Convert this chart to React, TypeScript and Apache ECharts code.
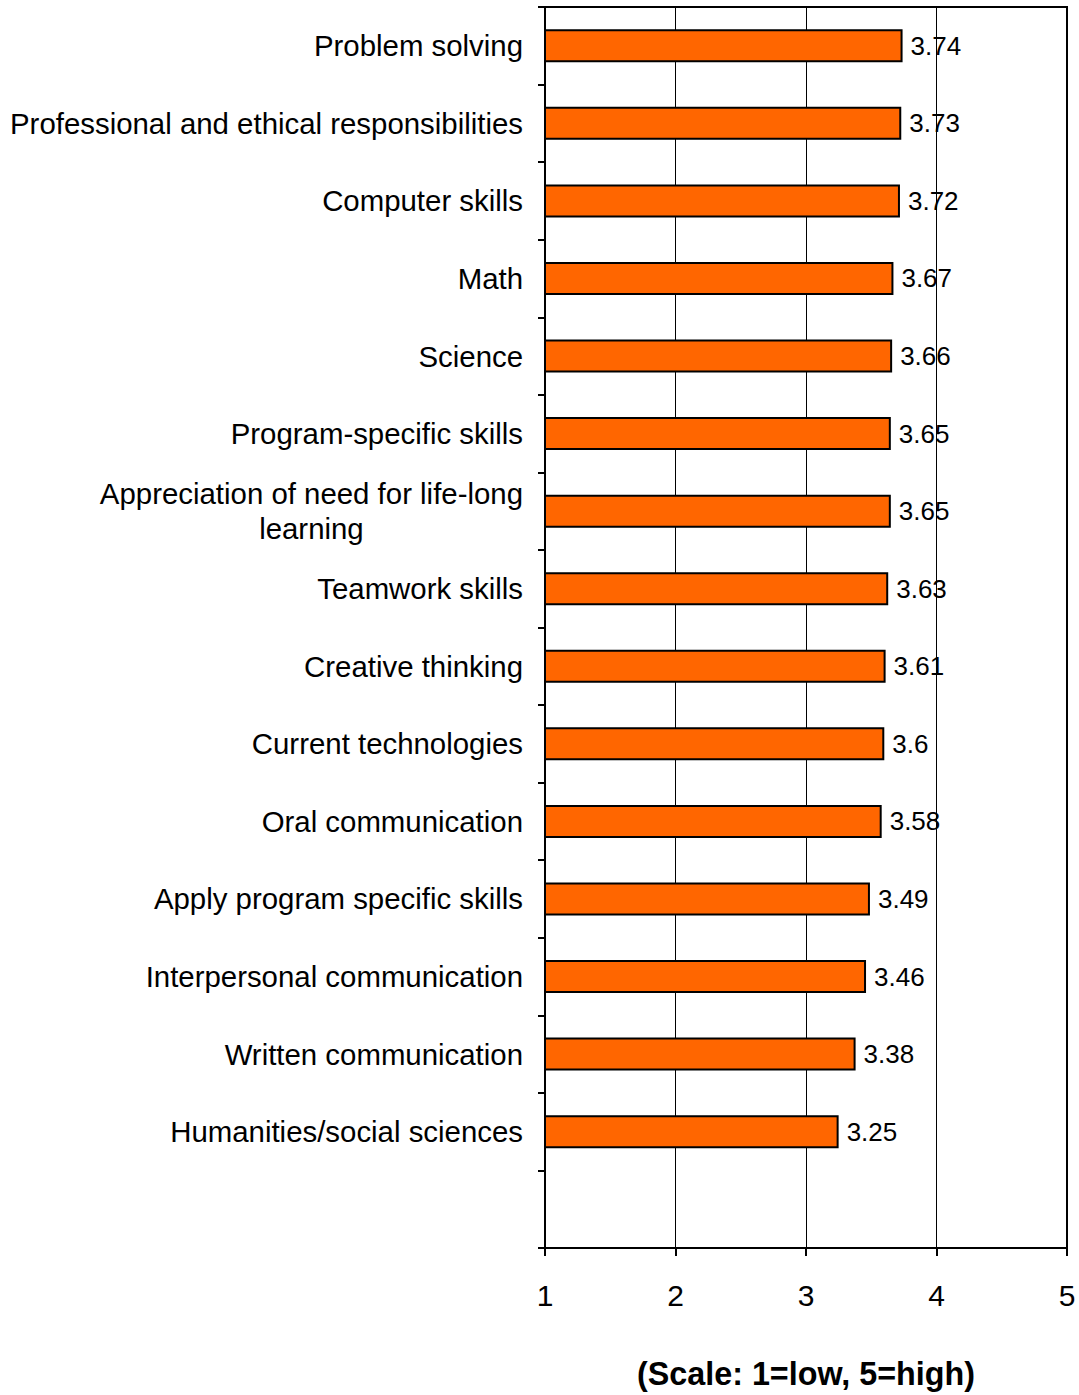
import React, { useEffect, useRef } from "react";
import * as echarts from "echarts";

const categories: string[] = [
  "Problem solving",
  "Professional and ethical responsibilities",
  "Computer skills",
  "Math",
  "Science",
  "Program-specific skills",
  "Appreciation of need for life-long\nlearning",
  "Teamwork skills",
  "Creative thinking",
  "Current technologies",
  "Oral communication",
  "Apply program specific skills",
  "Interpersonal communication",
  "Written communication",
  "Humanities/social sciences",
  "",
];

const values: (number | null)[] = [
  3.74, 3.73, 3.72, 3.67, 3.66, 3.65, 3.65, 3.63, 3.61, 3.6, 3.58, 3.49, 3.46, 3.38, 3.25, null,
];

const xTicks = [1, 2, 3, 4, 5];
const axisTitle = "(Scale: 1=low, 5=high)";

const FONT = "'Liberation Sans', Arial, sans-serif";

export default function App() {
  const ref = useRef<HTMLDivElement>(null);

  useEffect(() => {
    document.body.style.margin = "0";
    if (!ref.current) return;
    const chart = echarts.init(ref.current, undefined, { renderer: "svg" });
    chart.setOption({
      animation: false,
      backgroundColor: "#ffffff",
      grid: {
        left: 545,
        right: 12,
        top: 7,
        bottom: 145,
        show: true,
        borderColor: "#000",
        borderWidth: 2,
        containLabel: false,
      },
      xAxis: {
        type: "value",
        min: xTicks[0],
        max: xTicks[xTicks.length - 1],
        interval: 1,
        axisLine: { show: true, lineStyle: { color: "#000", width: 2 } },
        axisTick: { show: true, length: 8, lineStyle: { color: "#000", width: 2 } },
        axisLabel: {
          color: "#000",
          fontSize: 30,
          fontFamily: FONT,
          margin: 32,
        },
        splitLine: { show: true, lineStyle: { color: "#000", width: 1 } },
        name: axisTitle,
        nameLocation: "middle",
        nameGap: 110,
        nameTextStyle: {
          color: "#000",
          fontSize: 32.3,
          fontWeight: "bold",
          fontFamily: FONT,
        },
      },
      yAxis: {
        type: "category",
        inverse: true,
        data: categories,
        axisLine: { show: true, lineStyle: { color: "#000", width: 2 } },
        axisTick: { show: true, length: 7, lineStyle: { color: "#000", width: 2 } },
        splitLine: { show: false },
        axisLabel: {
          margin: 22,
          formatter: (v: string) =>
            v
              .split("\n")
              .map((l) => `{a|${l}}`)
              .join("\n"),
          rich: {
            a: {
              align: "center",
              color: "#000",
              fontSize: 29.4,
              fontFamily: FONT,
              lineHeight: 35,
            },
          },
        },
      },
      series: [
        {
          type: "bar",
          data: values,
          barWidth: 33,
          itemStyle: {
            color: "#FF6600",
            borderColor: "#000",
            borderWidth: 2,
          },
          label: {
            show: true,
            position: "right",
            distance: 8,
            color: "#000",
            fontSize: 26,
            fontFamily: FONT,
          },
        },
      ],
    });
    return () => chart.dispose();
  }, []);

  return (
    <div
      ref={ref}
      style={{ position: "absolute", left: 0, top: 0, width: 1079, height: 1395 }}
    />
  );
}
